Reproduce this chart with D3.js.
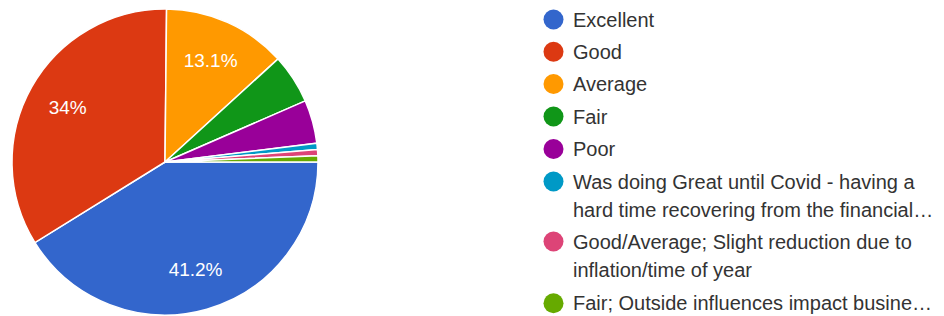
<!DOCTYPE html>
<html>
<head>
<meta charset="utf-8">
<script src="https://cdn.jsdelivr.net/npm/d3@7"></script>
<style>
  body { margin: 0; background: #fff; }
  text { font-family: "Liberation Sans", Arial, sans-serif; }
</style>
</head>
<body>
<script>
// the data (response counts)
var categories = ["Excellent", "Good", "Average", "Fair", "Poor",
    "Was doing Great until Covid - having a hard time recovering from the financial\u2026",
    "Good/Average; Slight reduction due to inflation/time of year",
    "Fair; Outside influences impact busine\u2026"];
var counts = [63, 52, 20, 8, 7, 1, 1, 1];
var colors = ["#3366cc", "#dc3912", "#ff9900", "#109618", "#990099", "#0099c6", "#dd4477", "#66aa00"];
// legend lines, wrapped the way the picture shows
var legendLines = [
    ["Excellent"],
    ["Good"],
    ["Average"],
    ["Fair"],
    ["Poor"],
    ["Was doing Great until Covid - having a", "hard time recovering from the financial\u2026"],
    ["Good/Average; Slight reduction due to", "inflation/time of year"],
    ["Fair; Outside influences impact busine\u2026"]
];

var width = 944, height = 316;
var cx = 165, cy = 162, radius = 153;

var svg = d3.select("body")
    .append("svg")
        .attr("width", width)
        .attr("height", height);

var total = d3.sum(counts);
var data = counts.map(function(c, i) { return {name: categories[i], value: c, color: colors[i]}; });

// start at 3 o'clock, go clockwise
var pie = d3.pie()
    .sort(null)
    .value(function(d) { return d.value; })
    .startAngle(Math.PI / 2)
    .endAngle(Math.PI / 2 + 2 * Math.PI);

var arc = d3.arc().innerRadius(0).outerRadius(radius);
var labelArc = d3.arc().innerRadius(radius * 0.73).outerRadius(radius * 0.73);

var g = svg.append("g")
    .attr("transform", "translate(" + cx + "," + cy + ")");

var arcs = pie(data);

g.selectAll("path")
    .data(arcs)
  .enter().append("path")
    .attr("d", arc)
    .style("fill", function(d) { return d.data.color; })
    .style("stroke", "#fff")
    .style("stroke-width", "1.5");

var pct = function(v) {
  var p = Math.round(v / total * 1000) / 10;
  return p + "%";
};

g.selectAll("text.lbl")
    .data(arcs.filter(function(d) { return d.data.value / total > 0.1; }))
  .enter().append("text")
    .attr("class", "lbl")
    .attr("transform", function(d) { return "translate(" + labelArc.centroid(d) + ")"; })
    .attr("text-anchor", "middle")
    .attr("dy", "0.35em")
    .style("fill", "#fff")
    .style("font-size", "19px")
    .text(function(d) { return pct(d.data.value); });

// legend
var rowY = [19.5, 51.8, 84, 116.5, 149, 181.5, 241.5, 303.3];
var lineGap = 28.5;

var legend = svg.append("g");

data.forEach(function(d, i) {
  legend.append("circle")
      .attr("cx", 553.5)
      .attr("cy", rowY[i])
      .attr("r", 10)
      .style("fill", d.color);

  var t = legend.append("text")
      .attr("x", 573)
      .attr("y", rowY[i])
      .attr("dy", "0.35em")
      .style("font-size", "20px")
      .style("fill", "#333");

  legendLines[i].forEach(function(line, j) {
    t.append("tspan")
        .attr("x", 573)
        .attr("y", rowY[i] + j * lineGap)
        .attr("dy", "0.35em")
        .text(line);
  });
});
</script>
</body>
</html>
